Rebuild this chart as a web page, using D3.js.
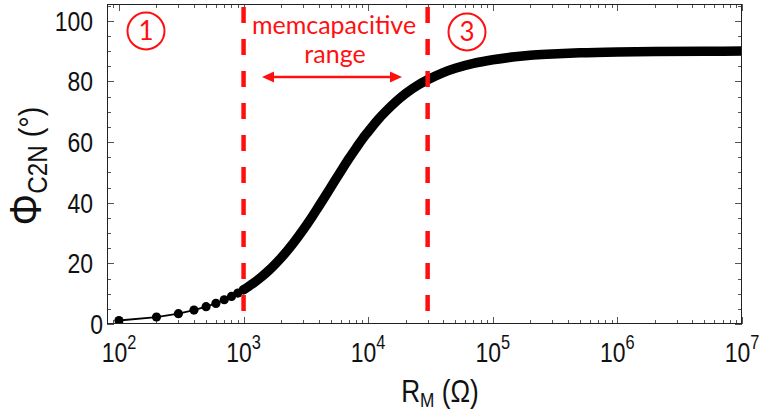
<!DOCTYPE html>
<html>
<head>
<meta charset="utf-8">
<script src="https://cdn.jsdelivr.net/npm/d3@7"></script>
<style>
  html, body { margin: 0; padding: 0; background: #fff; }
  svg { display: block; }
</style>
</head>
<body>
<svg id="chart" width="766" height="411"></svg>
<script>
// Phase angle of the C2N element versus memristance R_M.
// Low-resistance samples (spaced 100 Ω apart, drawn as separate dots)
const sparseR   = [100, 200, 300, 400, 500, 600, 700, 800, 900, 1000];
const sparsePhi = [1.15, 2.3, 3.4, 4.6, 5.7, 6.8, 8.0, 9.1, 10.2, 11.3];

// Higher resistances: samples overlap into a solid band
const denseR   = [1000, 1100, 1200, 1400, 1600, 1800, 2000, 2500, 3000, 3500, 4000, 4500, 5000,
                  6000, 7000, 8000, 9000, 10000, 12000, 14000, 17000, 20000, 25000, 30000,
                  40000, 50000, 70000, 100000, 150000, 200000, 300000, 500000,
                  1e6, 2e6, 5e6, 1e7];
const densePhi = [11.3, 12.4, 13.5, 15.6, 17.7, 19.8, 21.8, 26.6, 31.0, 35.0, 38.7, 42.0, 45.0,
                  50.2, 54.5, 58.0, 61.0, 63.4, 67.4, 70.3, 73.6, 76.0, 78.7, 80.5,
                  82.9, 84.3, 85.9, 87.1, 88.1, 88.6, 89.0, 89.4,
                  89.7, 89.85, 89.94, 89.97];

// Axis ticks
const yTicks = [0, 20, 40, 60, 80, 100];
const xTickExps = [2, 3, 4, 5, 6, 7];

// Boundaries of the memcapacitive range
const boundaryR = [1000, 30000];

(function draw() {
const svg = d3.select("#chart");
const pLeft = 107, pRight = 742, pTop = 4, pBottom = 324;

const x = d3.scaleLog().domain([Math.pow(10, 1.904), 1e7]).range([pLeft, pRight]);
const y = d3.scaleLinear().domain([0, 105.5]).range([pBottom, pTop]);

const red = "#ff1010";

// ---- frame ticks ----
const gT = svg.append("g").attr("stroke", "#555").attr("stroke-width", 1);

// log ticks (bottom & top)
const logTicks = [];
for (let e = 1; e < 7; e++) for (let m = 1; m <= 9; m++) {
  const v = m * Math.pow(10, e);
  if (v >= x.domain()[0] && v <= 1e7) logTicks.push({v, major: m === 1});
}
logTicks.push({v: 1e7, major: true});
logTicks.forEach(t => {
  const px = Math.round(x(t.v)) + 0.5;
  const len = t.major ? 7 : 4;
  gT.append("line").attr("x1", px).attr("x2", px).attr("y1", pBottom).attr("y2", pBottom - len);
  gT.append("line").attr("x1", px).attr("x2", px).attr("y1", pTop).attr("y2", pTop + len);
});
// linear ticks (left & right)
for (let v = 0; v <= 105; v += 5) {
  const py = Math.round(y(v)) + 0.5;
  const len = v % 20 === 0 ? 7 : 4;
  gT.append("line").attr("x1", pLeft).attr("x2", pLeft + len).attr("y1", py).attr("y2", py);
  gT.append("line").attr("x1", pRight).attr("x2", pRight - len).attr("y1", py).attr("y2", py);
}

// ---- data ----
svg.append("clipPath").attr("id", "plotclip")
  .append("rect").attr("x", pLeft).attr("y", pTop).attr("width", pRight - pLeft).attr("height", pBottom - pTop);
const gData = svg.append("g").attr("clip-path", "url(#plotclip)");

const sparse = sparseR.map((r, i) => [r, sparsePhi[i]]);
const dense = denseR.map((r, i) => [r, densePhi[i]]);

gData.append("path").datum(sparse).attr("d", d3.line().x(d => x(d[0])).y(d => y(d[1])))
  .attr("fill", "none").attr("stroke", "#000").attr("stroke-width", 1.8);
gData.append("path").datum(dense).attr("d", d3.line().x(d => x(d[0])).y(d => y(d[1])).curve(d3.curveMonotoneX))
  .attr("fill", "none").attr("stroke", "#000").attr("stroke-width", 9.5)
  .attr("stroke-linecap", "round").attr("stroke-linejoin", "round");
gData.selectAll("circle.pt").data(sparse).enter().append("circle")
  .attr("class", "pt").attr("cx", d => x(d[0])).attr("cy", d => y(d[1])).attr("r", 4.6).attr("fill", "#000");

// ---- boundaries ----
boundaryR.forEach(r => {
  svg.append("line").attr("x1", x(r)).attr("x2", x(r)).attr("y1", 7).attr("y2", 312)
    .attr("stroke", red).attr("stroke-width", 4.5).attr("stroke-dasharray", "16,16");
});

// frame
svg.append("rect").attr("x", pLeft + 0.5).attr("y", pTop + 0.5)
  .attr("width", pRight - pLeft - 1).attr("height", pBottom - pTop - 1)
  .attr("fill", "none").attr("stroke", "#222").attr("stroke-width", 1);

// ---- tick labels (slightly narrow, tall glyphs) ----
const labFont = "'Liberation Sans', Arial, sans-serif";
const squeeze = 0.82;
yTicks.forEach(v => {
  svg.append("g").attr("transform", `translate(${v === 0 ? 103 : 93},${y(v) + 10}) scale(${squeeze},1)`)
    .append("text").attr("text-anchor", "end").attr("font-family", labFont).attr("font-size", 28)
    .attr("fill", "#111").text(v);
});
xTickExps.forEach(e => {
  const t = svg.append("g").attr("transform", `translate(${x(Math.pow(10, e))},362) scale(${squeeze},1)`)
    .append("text").attr("text-anchor", "middle").attr("font-family", labFont).attr("font-size", 28).attr("fill", "#111");
  t.append("tspan").text("10");
  t.append("tspan").attr("dy", -13).attr("font-size", 20).text(e);
});

// axis titles
const xt = svg.append("g").attr("transform", `translate(440,402) scale(${squeeze},1)`)
  .append("text").attr("text-anchor", "middle")
  .attr("font-family", labFont).attr("font-size", 32).attr("fill", "#111");
xt.append("tspan").text("R");
xt.append("tspan").attr("dy", 5).attr("font-size", 21).text("M");
xt.append("tspan").attr("dy", -5).text(" (Ω)");

const yt = svg.append("g").attr("transform", `translate(41,166) rotate(-90) scale(0.9,1)`)
  .append("text").attr("text-anchor", "middle")
  .attr("font-family", labFont).attr("font-size", 32).attr("fill", "#111");
yt.append("tspan").attr("font-size", 44).text("Φ");
yt.append("tspan").attr("dy", 6).attr("font-size", 27).text("C2N");
yt.append("tspan").attr("dy", -6).text(" (°)");

// ---- annotations ----
const annFont = "Lato, 'Open Sans', sans-serif";
function circled(cx, cy, label) {
  svg.append("circle").attr("cx", cx).attr("cy", cy).attr("r", 18.5)
    .attr("fill", "none").attr("stroke", red).attr("stroke-width", 2);
  svg.append("text").attr("x", cx).attr("y", cy + 9).attr("text-anchor", "middle")
    .attr("font-family", annFont).attr("font-size", 26).attr("fill", red).text(label);
}
circled(146, 31, "1");
circled(467, 32, "3");

svg.append("text").attr("x", 334).attr("y", 34).attr("text-anchor", "middle")
  .attr("font-family", annFont).attr("font-size", 25).attr("fill", red).text("memcapacitive");
svg.append("text").attr("x", 335).attr("y", 63).attr("text-anchor", "middle")
  .attr("font-family", annFont).attr("font-size", 25).attr("fill", red).text("range");

// double-headed arrow
const ay = 77, ax1 = 262, ax2 = 402;
svg.append("line").attr("x1", ax1 + 8).attr("x2", ax2 - 8).attr("y1", ay).attr("y2", ay)
  .attr("stroke", red).attr("stroke-width", 2.5);
svg.append("path").attr("d", `M${ax1},${ay} L${ax1 + 12},${ay - 5.5} L${ax1 + 12},${ay + 5.5} Z`).attr("fill", red);
svg.append("path").attr("d", `M${ax2},${ay} L${ax2 - 12},${ay - 5.5} L${ax2 - 12},${ay + 5.5} Z`).attr("fill", red);
})();
</script>
</body>
</html>
